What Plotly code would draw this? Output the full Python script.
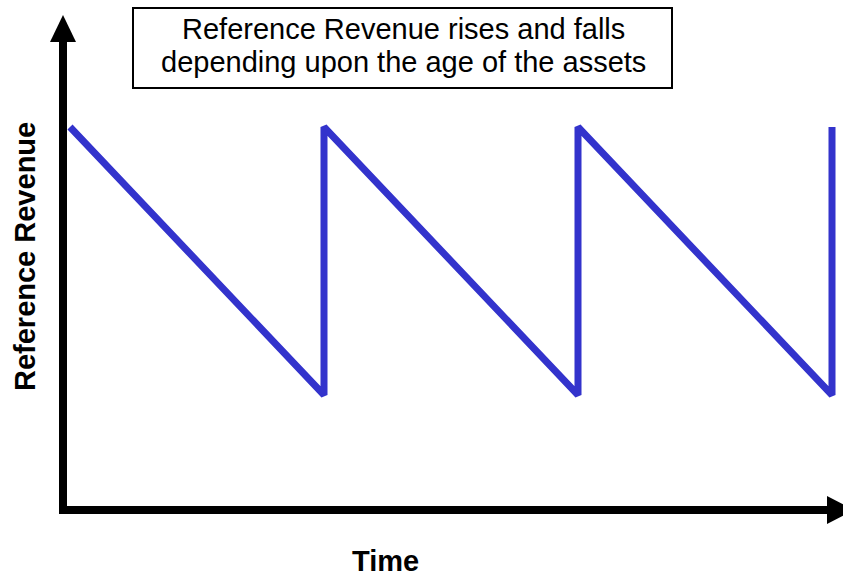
import plotly.graph_objects as go

# Data: sawtooth of reference revenue vs asset age
time_pts = [0, 1, 1, 2, 2, 3, 3]
revenue = [1, 0, 1, 0, 1, 0, 1]

title_lines = ["Reference Revenue rises and falls",
               "depending upon the age of the assets"]
x_label = "Time"
y_label = "Reference Revenue"

W, H = 843, 576
def px(x):
    return x / W
def py(y):
    return 1 - y / H

FONT = "Liberation Sans, Arial, Helvetica, sans-serif"
FS = 29

fig = go.Figure()
fig.add_trace(go.Scatter(x=time_pts, y=revenue, mode="lines",
                         line=dict(color="#3333CC", width=7), hoverinfo="skip"))

# pixel mapping: x=0 -> 70px, x=3 -> 832px ; y=1 -> 127px, y=0 -> 395px
xs = (832 - 70) / 3
ys = (395 - 127)
fig.update_xaxes(range=[-70 / xs, (W - 70) / xs], visible=False)
fig.update_yaxes(range=[-(H - 395) / ys, 1 + 127 / ys], visible=False)

shapes = []
# vertical axis
shapes.append(dict(type="rect", xref="paper", yref="paper",
                   x0=px(59), x1=px(67), y0=py(514), y1=py(40),
                   fillcolor="black", line=dict(width=0)))
shapes.append(dict(type="path", xref="paper", yref="paper",
                   path=f"M {px(50)} {py(42)} L {px(63)} {py(15)} L {px(76)} {py(42)} Z",
                   fillcolor="black", line=dict(width=0)))
# horizontal axis
shapes.append(dict(type="rect", xref="paper", yref="paper",
                   x0=px(59), x1=px(829), y0=py(514), y1=py(506),
                   fillcolor="black", line=dict(width=0)))
shapes.append(dict(type="path", xref="paper", yref="paper",
                   path=f"M {px(827)} {py(496)} L {px(854)} {py(510)} L {px(827)} {py(524)} Z",
                   fillcolor="black", line=dict(width=0)))
# title box
shapes.append(dict(type="rect", xref="paper", yref="paper",
                   x0=px(133), x1=px(672), y0=py(88), y1=py(8),
                   fillcolor="white", line=dict(color="black", width=2)))

annotations = [
    dict(text=title_lines[0], xref="paper", yref="paper", x=px(403), y=py(29),
         showarrow=False, xanchor="center", yanchor="middle",
         font=dict(family=FONT, size=FS, color="black")),
    dict(text=title_lines[1], xref="paper", yref="paper", x=px(403), y=py(62),
         showarrow=False, xanchor="center", yanchor="middle",
         font=dict(family=FONT, size=FS, color="black")),
    dict(text=f"<b>{x_label}</b>", xref="paper", yref="paper", x=px(385), y=py(561),
         showarrow=False, xanchor="center", yanchor="middle",
         font=dict(family=FONT, size=FS, color="black")),
    dict(text=f"<b>{y_label}</b>", xref="paper", yref="paper", x=px(25), y=py(257),
         showarrow=False, xanchor="center", yanchor="middle", textangle=-90,
         font=dict(family=FONT, size=FS, color="black")),
]

fig.update_layout(width=W, height=H, margin=dict(l=0, r=0, t=0, b=0),
                  plot_bgcolor="white", paper_bgcolor="white",
                  showlegend=False, shapes=shapes, annotations=annotations)
fig.write_html("out.html")
